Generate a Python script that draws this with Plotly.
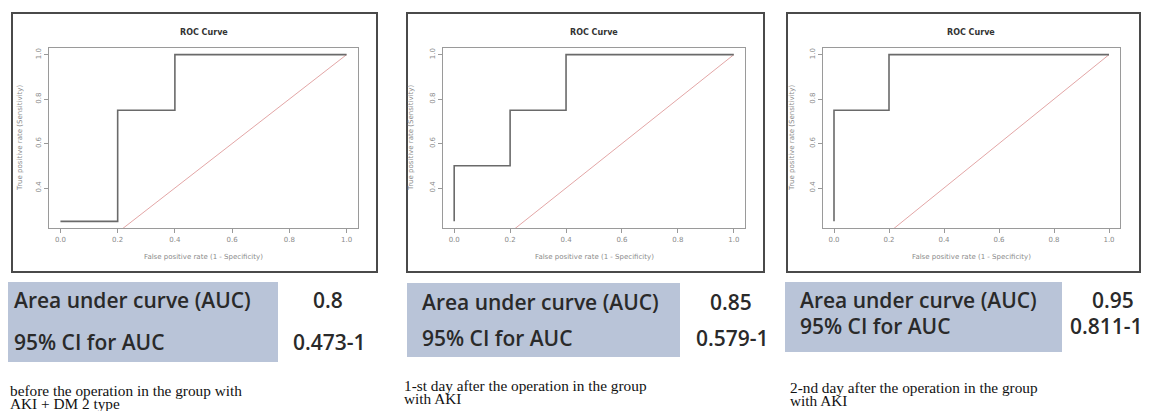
import plotly.graph_objects as go

W, H = 1151, 411

# ---- data ----
fpr_1 = [0.0, 0.2, 0.2, 0.4, 0.4, 1.0]
tpr_1 = [0.25, 0.25, 0.75, 0.75, 1.0, 1.0]
fpr_2 = [0.0, 0.0, 0.2, 0.2, 0.4, 0.4, 1.0]
tpr_2 = [0.25, 0.5, 0.5, 0.75, 0.75, 1.0, 1.0]
fpr_3 = [0.0, 0.0, 0.2, 0.2, 1.0]
tpr_3 = [0.25, 0.75, 0.75, 1.0, 1.0]
diag = [0.0, 1.0]

auc_values = ["0.8", "0.85", "0.95"]
ci_values = ["0.473-1", "0.579-1", "0.811-1"]
row_labels = ["Area under curve (AUC)", "95% CI for AUC"]
captions = [
    ["before the operation in the group with", "AKI + DM 2 type"],
    ["1-st day after the operation in the group", "with AKI"],
    ["2-nd day after the operation in the group", "with AKI"],
]
x_ticks = [0.0, 0.2, 0.4, 0.6, 0.8, 1.0]
y_ticks = [0.4, 0.6, 0.8, 1.0]
plot_title = "ROC Curve"
x_title = "False positive rate (1 - Specificity)"
y_title = "True positive rate (Sensitivity)"

# ---- layout in pixels ----
panels = [
    dict(frame=(12, 13, 377, 272), plot=(49, 48, 358, 228), table=(8, 282, 278, 362),
         rows=(300, 342), labx=12, valx=(328, 329), cap=(8, 390, 403), ytx=20),
    dict(frame=(407, 13, 764, 272), plot=(443, 48, 745, 228), table=(407, 283, 680, 357),
         rows=(302, 338), labx=420, valx=(731, 732), cap=(402, 385, 398), ytx=411),
    dict(frame=(787, 13, 1140, 272), plot=(823, 48, 1120, 228), table=(785, 282, 1062, 352),
         rows=(300, 326), labx=798, valx=(1113, 1106), cap=(788, 387, 400), ytx=792),
]
curves = [(fpr_1, tpr_1), (fpr_2, tpr_2), (fpr_3, tpr_3)]


def px(x):
    return x / W


def py(y):
    return 1 - y / H


fig = go.Figure()
shapes = []
annotations = []
tick_font = dict(size=7, color="#8a8a8a", family="DejaVu Sans")
table_font = dict(size=21, color="#2a2a2a", family="Open Sans", weight=600)


def note(x, y, text, font, xanchor="center", textangle=0):
    annotations.append(dict(x=px(x), y=py(y), xref="paper", yref="paper", text=text,
                            showarrow=False, xanchor=xanchor, yanchor="middle",
                            textangle=textangle, font=font))


for i, (p, (fx, ty)) in enumerate(zip(panels, curves)):
    n = "" if i == 0 else str(i + 1)
    xa, ya = "x" + n, "y" + n
    l, t, r, b = p["plot"]
    fig.add_trace(go.Scatter(x=diag, y=diag, mode="lines", xaxis=xa, yaxis=ya,
                             line=dict(color="#e3a6a6", width=1), showlegend=False,
                             hoverinfo="skip"))
    fig.add_trace(go.Scatter(x=fx, y=ty, mode="lines", xaxis=xa, yaxis=ya,
                             line=dict(color="#6a6a6a", width=1.6), showlegend=False))
    axis_common = dict(showline=True, mirror=True, linecolor="#9a9a9a", linewidth=1.3,
                       ticks="outside", ticklen=4, tickcolor="#9a9a9a", showgrid=False,
                       zeroline=False, tickfont=tick_font)
    fig.update_layout(**{
        "xaxis" + n: dict(domain=[px(l), px(r)], range=[-0.04, 1.04], tickvals=x_ticks,
                          ticktext=[f"{v:.1f}" for v in x_ticks], anchor=ya, **axis_common),
        "yaxis" + n: dict(domain=[py(b), py(t)], range=[0.22, 1.03], tickvals=y_ticks,
                          ticktext=[f"{v:.1f}" for v in y_ticks], tickangle=-90, anchor=xa,
                          **axis_common),
    })
    fl, ft, fr, fb = p["frame"]
    shapes.append(dict(type="rect", xref="paper", yref="paper", x0=px(fl), x1=px(fr),
                       y0=py(fb), y1=py(ft), line=dict(color="#4a4a4a", width=2)))
    tl, tt, tr, tb = p["table"]
    shapes.append(dict(type="rect", xref="paper", yref="paper", x0=px(tl), x1=px(tr),
                       y0=py(tb), y1=py(tt), line=dict(width=0), fillcolor="#b9c4d8",
                       layer="below"))
    note((l + r) / 2, 32, "<b>" + plot_title + "</b>",
         dict(size=8, color="#333", family="DejaVu Sans"))
    note((l + r) / 2, 257, x_title, tick_font)
    note(p["ytx"], (t + b) / 2, y_title, tick_font, textangle=-90)
    vals = [auc_values[i], ci_values[i]]
    for k in range(2):
        note(p["labx"], p["rows"][k], row_labels[k], table_font, xanchor="left")
        note(p["valx"][k], p["rows"][k], vals[k], table_font)
    cx, cy1, cy2 = p["cap"]
    for line_text, cy in zip(captions[i], (cy1, cy2)):
        note(cx, cy, line_text, dict(size=15.3, color="#111", family="Liberation Serif"),
             xanchor="left")

fig.update_layout(width=W, height=H, margin=dict(l=0, r=0, t=0, b=0),
                  paper_bgcolor="white", plot_bgcolor="white",
                  shapes=shapes, annotations=annotations)
fig.write_html("out.html", config={"displayModeBar": False},
               post_script="document.body.style.margin='0';document.body.style.overflow='hidden';")
